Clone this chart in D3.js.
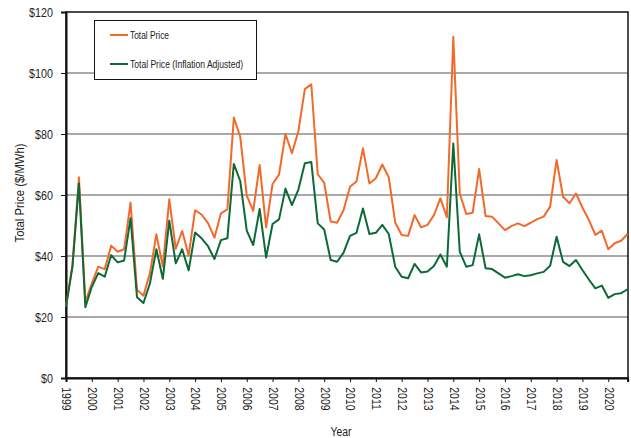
<html>
<head>
  <script src="https://d3js.org/d3.v7.min.js"></script>
  <style>
    body { margin: 0; background: #fff; }
    text { font-family: "Liberation Sans", Arial, sans-serif; fill: #222; }
  </style>
</head>
<body>
<script>

w = 631;
h = 438;
margin = {top: 12, right: 3, bottom: 60, left: 66};

// quarterly figures, Q1 1999 .. Q4 2020
startYear = 1999;
totalPrice = [
  23.5, 37, 65.8, 25,
  31, 36.5, 35.7, 43.4,
  41.4, 42.2, 57.5, 28.9,
  27, 34.3, 47.1, 36.5,
  58.6, 42.4, 48.2, 40.2,
  55, 53.6, 50.8, 46,
  54, 55.3, 85.4, 79,
  59.8, 54.8, 69.8, 49.4,
  63.6, 66.7, 80, 73.7,
  80.9, 94.7, 96.3, 66.8,
  64, 51.3, 50.9, 55.1,
  62.7, 64.4, 75.3, 63.8,
  65.5, 70, 65.8, 51,
  46.9, 46.6, 53.4, 49.4,
  50.2, 53.4, 58.9, 52.7,
  111.9, 60.5, 53.8, 54.2,
  68.5, 53.1, 52.9, 50.7,
  48.5, 49.8, 50.7, 49.8,
  50.9, 52.1, 52.9, 56.2,
  71.5, 59.4, 57.3, 60.5,
  55.9, 51.8, 46.9, 48.3,
  42.2, 44.2, 45, 47.2
];
totalPriceAdj = [
  23.3, 36.5, 63.8, 23.2,
  29.9, 34.4, 33.2, 40.3,
  37.9, 38.5, 52.4, 26.5,
  24.6, 31, 42.2, 32.5,
  51.6, 37.6, 42.2, 35.3,
  47.7, 45.8, 43.2, 39,
  45.2, 45.8, 70.2, 64.5,
  48.3, 43.6, 55.4, 39.5,
  50.5, 52, 62.1, 56.7,
  61.8, 70.4, 70.8, 50.7,
  48.7, 38.7, 38.1, 41.1,
  46.6, 47.6, 55.6, 47.2,
  47.6, 50.2, 47.2, 36.5,
  33.2, 32.7, 37.4, 34.6,
  34.9, 36.7, 40.5, 36.5,
  76.9, 41.4, 36.5, 37,
  47.1, 36, 35.7, 34.3,
  32.9, 33.4, 34, 33.4,
  33.7, 34.3, 34.8, 36.8,
  46.3, 38.1, 36.7, 38.7,
  35.4, 32.3, 29.4, 30.3,
  26.3, 27.5, 27.8, 29.1
];
yearTicks = [1999, 2000, 2001, 2002, 2003, 2004, 2005, 2006, 2007, 2008, 2009,
             2010, 2011, 2012, 2013, 2014, 2015, 2016, 2017, 2018, 2019, 2020];
priceTicks = [0, 20, 40, 60, 80, 100, 120];
seriesNames = ["Total Price", "Total Price (Inflation Adjusted)"];
seriesColors = ["#f26a2b", "#0d6a37"];

quarters = totalPrice.map((d, i) => startYear + i / 4);

svg = d3.select("body").append("svg")
  .attr("width", w)
  .attr("height", h);

x = d3.scaleLinear()
  .domain([startYear, startYear + (totalPrice.length - 1) / 4])
  .range([margin.left, w - margin.right - 0.4]);

y = d3.scaleLinear()
  .domain([0, 120])
  .range([h - margin.bottom, margin.top]);

// grid
svg.append("g")
  .selectAll("line")
  .data(priceTicks.slice(1, -1))
  .enter().append("line")
  .attr("x1", margin.left)
  .attr("x2", w - margin.right)
  .attr("y1", d => y(d))
  .attr("y2", d => y(d))
  .attr("stroke", "#8c8c8c")
  .attr("stroke-width", 1.5);

// frame
svg.append("rect")
  .attr("x", margin.left)
  .attr("y", margin.top)
  .attr("width", w - margin.right - margin.left)
  .attr("height", h - margin.bottom - margin.top)
  .attr("fill", "none")
  .attr("stroke", "#111")
  .attr("stroke-width", 1.5);

yAxis = svg.append("g")
  .attr("transform", "translate(" + margin.left + ",0)")
  .call(d3.axisLeft(y).tickValues(priceTicks).tickFormat(d => "$" + d).tickSizeOuter(0).tickSize(5).tickPadding(7));

xAxis = svg.append("g")
  .attr("transform", "translate(0," + (h - margin.bottom) + ")")
  .call(d3.axisBottom(x).tickValues(yearTicks).tickFormat(d3.format("d")).tickSizeOuter(0).tickSize(4));

[yAxis, xAxis].forEach(a => {
  a.select(".domain").attr("stroke", "#111").attr("stroke-width", 2);
  a.selectAll(".tick line").attr("stroke", "#111");
  a.selectAll("text").attr("fill", "#222").style("font-size", "12.5px");
});

// narrow look, like the original's condensed face
yAxis.selectAll("text")
  .attr("x", 0)
  .attr("transform", "translate(-13,0) scale(0.86,1)");

xAxis.selectAll("text")
  .attr("transform", "rotate(90) scale(0.84,1)")
  .attr("text-anchor", "start")
  .attr("x", 11)
  .attr("y", 0)
  .attr("dy", "0.33em");

line = d3.line()
  .x((d, i) => x(quarters[i]))
  .y(d => y(d));

[totalPrice, totalPriceAdj].forEach((s, k) => {
  svg.append("path")
    .datum(s)
    .attr("fill", "none")
    .attr("stroke", seriesColors[k])
    .attr("stroke-width", 2)
    .attr("stroke-linejoin", "round")
    .attr("d", line);
});

// legend
legend = svg.append("g");
legend.append("rect")
  .attr("x", 94.5)
  .attr("y", 20.5)
  .attr("width", 162)
  .attr("height", 59)
  .attr("fill", "#fff")
  .attr("stroke", "#111")
  .attr("stroke-width", 1);

legendWidths = [39, 113];
seriesNames.forEach((n, k) => {
  ly = 35 + k * 29;
  legend.append("line")
    .attr("x1", 110).attr("x2", 128)
    .attr("y1", ly).attr("y2", ly)
    .attr("stroke", seriesColors[k])
    .attr("stroke-width", 2);
  legend.append("text")
    .attr("x", 130)
    .attr("y", ly)
    .attr("dy", "0.35em")
    .attr("textLength", legendWidths[k])
    .attr("lengthAdjust", "spacingAndGlyphs")
    .style("font-size", "10.5px")
    .text(n);
});

// axis titles
svg.append("text")
  .attr("transform", "translate(24,193) rotate(-90)")
  .attr("text-anchor", "middle")
  .attr("textLength", 99)
  .attr("lengthAdjust", "spacingAndGlyphs")
  .style("font-size", "12.5px")
  .text("Total Price ($/MWh)");

svg.append("text")
  .attr("x", 341)
  .attr("y", 436)
  .attr("text-anchor", "middle")
  .attr("textLength", 21)
  .attr("lengthAdjust", "spacingAndGlyphs")
  .style("font-size", "12.5px")
  .text("Year");

</script>
</body>
</html>
